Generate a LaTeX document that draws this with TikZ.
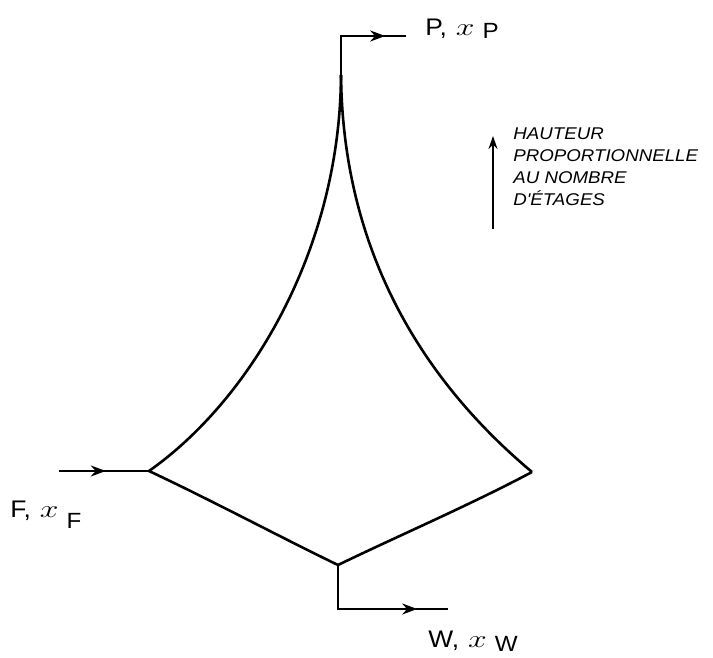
\documentclass[tikz,border=0pt]{standalone}
\usepackage{fontspec}
\setmainfont{Liberation Sans}
\newfontfamily\handfont[FakeStretch=1.1]{Liberation Sans Italic}
\newfontfamily\labfont[FakeStretch=1.1]{Liberation Sans}
\usetikzlibrary{decorations.markings,arrows.meta}
\newcommand\flowlab[3]{#1,\hspace{9pt}\scalebox{1.35}[1]{\fontsize{29}{29}\selectfont$x$}\hspace{8pt}\raisebox{-#3}{\fontsize{22}{22}\selectfont #2}}
\begin{document}
\begin{tikzpicture}[x=1pt,y=-1pt,line width=2.8pt,
  flow/.style={postaction={decorate},decoration={markings,
     mark=at position #1 with {\arrow{Stealth[length=15pt,width=11pt]}}}},
  curve/.style={line width=2.6pt},
  lab/.style={font=\labfont\fontsize{24}{26}\selectfont,anchor=base west,inner sep=0pt},
  note/.style={font=\handfont\fontsize{17}{22.3}\selectfont,align=left,anchor=north west,inner sep=0pt}]
\useasboundingbox (0,0) rectangle (713,658);
% vertices
\coordinate (T) at (341,75);
\coordinate (L) at (149,471);
\coordinate (R) at (532,472);
\coordinate (B) at (338,565);
% outlet/inlet ends
\coordinate (Tc) at (341,36);
\coordinate (Te) at (406,36);
\coordinate (Fs) at (59,471);
\coordinate (Bc) at (338,609);
\coordinate (Be) at (448,609);
% envelope
\draw[curve] (T) .. controls (340,250) and (250,400) .. (L);
\draw[curve] (T) .. controls (343,270) and (440,395) .. (R);
\draw[curve] (L) .. controls (215,502) and (280,537) .. (B);
\draw[curve] (B) .. controls (400,535) and (470,505) .. (R);
% streams
\draw[flow=0.80] (T) -- (Tc) -- (Te);
\draw[flow=0.52] (Fs) -- (L);
\draw[flow=0.80] (B) -- (Bc) -- (Be);
% labels
\node[lab] (P) at (424,36) {\flowlab{P}{P}{3pt}};
\node[lab] (F) at (9,517) {\flowlab{F}{F}{11pt}};
\node[lab] (W) at (427,647) {\flowlab{W}{W}{4pt}};
% height note
\coordinate (Ha) at (493,229);
\coordinate (Hb) at (493,136);
\draw[line width=1.9pt,-{Stealth[length=13pt,width=9pt]}] (Ha) -- (Hb);
\node[note] (N) at (512,126) {HAUTEUR\\PROPORTIONNELLE\\AU NOMBRE\\D'ÉTAGES};
\end{tikzpicture}
\end{document}
